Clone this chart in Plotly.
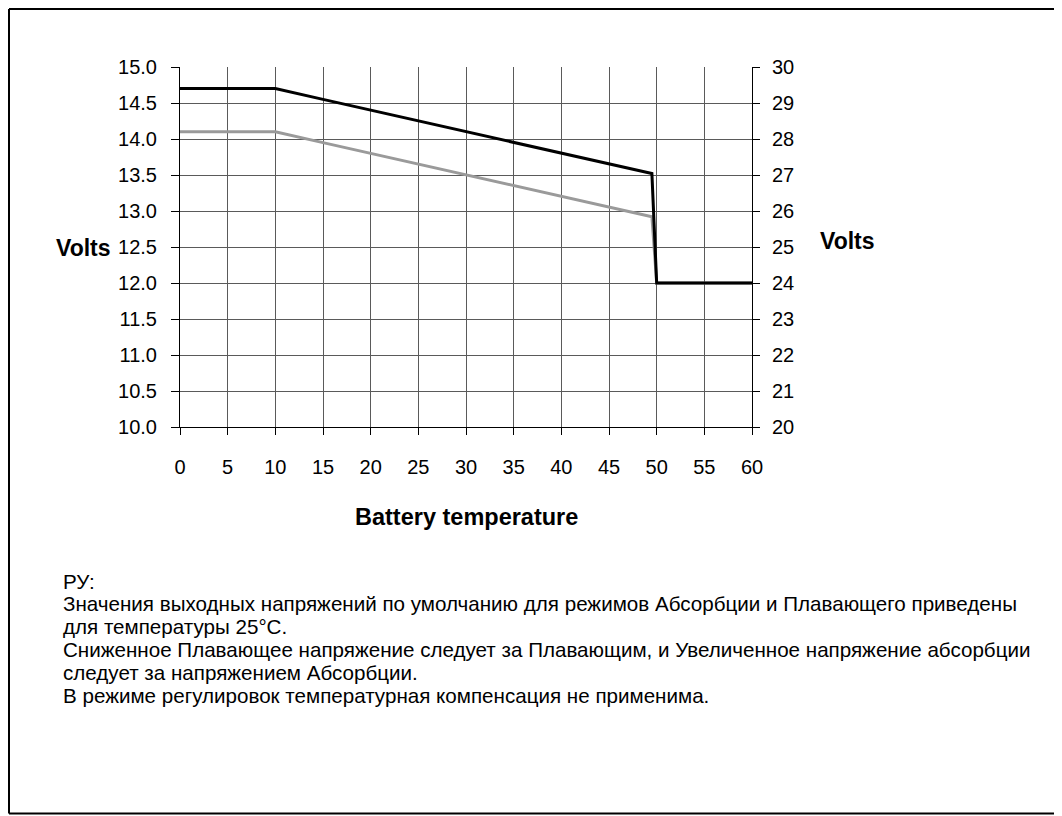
import plotly.graph_objects as go

# Battery temperature (°C)
temperature = [0, 5, 10, 15, 20, 25, 30, 35, 40, 45, 49.5, 50, 55, 60]
# Absorption voltage (black)
absorption_v = [14.7, 14.7, 14.7, 14.55, 14.4, 14.25, 14.1, 13.95, 13.8, 13.65, 13.52, 12.0, 12.0, 12.0]
# Float voltage (gray)
float_v = [14.1, 14.1, 14.1, 13.95, 13.8, 13.65, 13.5, 13.35, 13.2, 13.05, 12.92, 12.0, 12.0, 12.0]

x_ticks = [0, 5, 10, 15, 20, 25, 30, 35, 40, 45, 50, 55, 60]
y_ticks = [10.0, 10.5, 11.0, 11.5, 12.0, 12.5, 13.0, 13.5, 14.0, 14.5, 15.0]
y2_ticks = [20, 21, 22, 23, 24, 25, 26, 27, 28, 29, 30]

note_lines = [
    "РУ:",
    "Значения выходных напряжений по умолчанию для режимов Абсорбции и Плавающего приведены",
    "для температуры 25°C.",
    "Сниженное Плавающее напряжение следует за Плавающим, и Увеличенное напряжение абсорбции",
    "следует за напряжением Абсорбции.",
    "В режиме регулировок температурная компенсация не применима.",
]

FONT = "Liberation Sans, Arial, sans-serif"

fig = go.Figure()
fig.add_trace(go.Scatter(x=temperature, y=float_v, mode="lines",
                         line=dict(color="#9a9a9a", width=3), showlegend=False,
                         hoverinfo="skip"))
fig.add_trace(go.Scatter(x=temperature, y=absorption_v, mode="lines",
                         line=dict(color="#000000", width=3), showlegend=False,
                         hoverinfo="skip"))
fig.add_trace(go.Scatter(x=[None], y=[None], yaxis="y2", showlegend=False,
                         hoverinfo="skip"))

# page offset of the figure inside the browser (body margin)
OFF = 8
# plot area in page pixels: x 180..752, y 67..427
L, R, T, B = 180 - OFF, 752 - OFF, 67 - OFF, 427 - OFF
W, H = 1062 - OFF, 816 - OFF

def px(x):  # page x -> paper
    return (x - OFF - L) / (R - L)

def py(y):  # page y -> paper
    return (B - (y - OFF)) / (B - T)

annotations = [
    dict(text="<b>Volts</b>", xref="paper", yref="paper", x=px(113), y=py(248),
         xanchor="right", yanchor="middle", showarrow=False, font=dict(size=23)),
    dict(text="<b>Volts</b>", xref="paper", yref="paper", x=px(818), y=py(241),
         xanchor="left", yanchor="middle", showarrow=False, font=dict(size=23)),
    dict(text="<b>Battery temperature</b>", xref="paper", yref="paper",
         x=px(466), y=py(517), xanchor="center", yanchor="middle",
         showarrow=False, font=dict(size=23.5)),
]
for i, line in enumerate(note_lines):
    annotations.append(dict(text=line, xref="paper", yref="paper",
                            x=px(61), y=py(581 + 22.8 * i), xanchor="left",
                            yanchor="middle", align="left", showarrow=False,
                            font=dict(size=20.6)))

frame_left, frame_right, frame_top, frame_bottom = 9, 1060.5, 9, 813.5
shapes = [
    dict(type="line", xref="paper", yref="paper", x0=px(frame_left), x1=px(frame_right),
         y0=py(frame_top), y1=py(frame_top), line=dict(color="black", width=2), layer="below"),
    dict(type="line", xref="paper", yref="paper", x0=px(frame_left), x1=px(frame_right),
         y0=py(frame_bottom), y1=py(frame_bottom), line=dict(color="black", width=2), layer="below"),
    dict(type="line", xref="paper", yref="paper", x0=px(frame_left), x1=px(frame_left),
         y0=py(frame_top), y1=py(frame_bottom), line=dict(color="black", width=2), layer="below"),
    dict(type="line", xref="paper", yref="paper", x0=px(frame_right), x1=px(frame_right),
         y0=py(frame_top), y1=py(frame_bottom), line=dict(color="#777777", width=1), layer="below"),
]

fig.update_layout(
    width=W, height=H,
    margin=dict(l=L, r=W - R, t=T, b=H - B, pad=0),
    paper_bgcolor="white", plot_bgcolor="white",
    font=dict(family=FONT, size=20, color="black"),
    xaxis=dict(range=[0, 60], tickvals=x_ticks, ticktext=[str(v) for v in x_ticks],
               showgrid=True, gridcolor="#5a5a5a", gridwidth=1,
               showline=True, linecolor="black", linewidth=1,
               ticks="outside", ticklen=7, tickcolor="black",
               ticklabelstandoff=15, zeroline=False,
               tickfont=dict(size=20)),
    yaxis=dict(range=[10, 15], tickvals=y_ticks, ticktext=[f"{v:.1f}" for v in y_ticks],
               showgrid=True, gridcolor="#5a5a5a", gridwidth=1,
               showline=True, linecolor="black", linewidth=1,
               ticks="outside", ticklen=8, tickcolor="black",
               ticklabelstandoff=10, zeroline=False,
               tickfont=dict(size=20)),
    yaxis2=dict(range=[20, 30], tickvals=y2_ticks, ticktext=[str(v) for v in y2_ticks],
                overlaying="y", side="right", showgrid=False,
                showline=True, linecolor="black", linewidth=1,
                ticks="outside", ticklen=7, tickcolor="black",
                ticklabelstandoff=8, zeroline=False,
                tickfont=dict(size=20)),
    shapes=shapes,
    annotations=annotations,
)

fig.write_html("out.html")
